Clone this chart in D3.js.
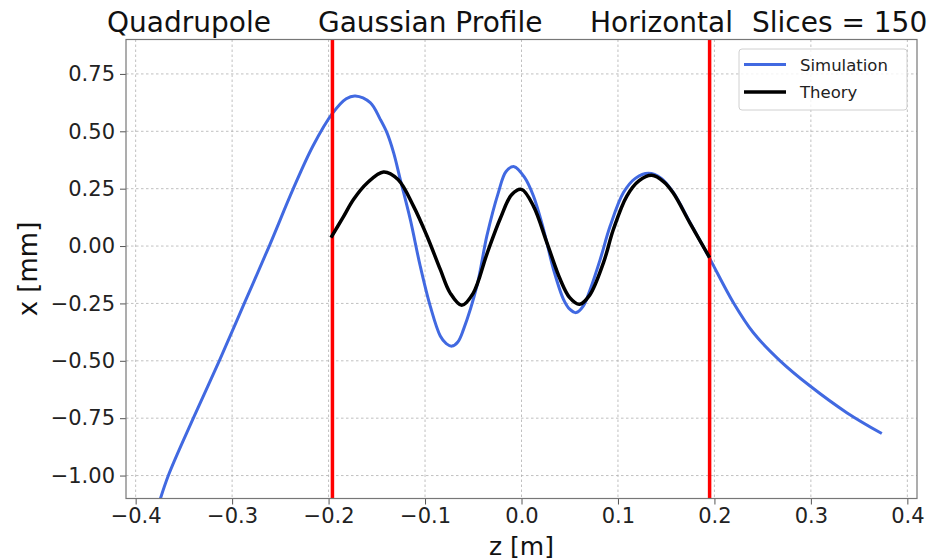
<!DOCTYPE html>
<html lang="en">
<head>
<meta charset="UTF-8">
<title>Quadrupole</title>
<style>
  body { margin: 0; background: #fff; }
  text { font-family: "DejaVu Sans", sans-serif; }
</style>
</head>
<body>
<script src="https://d3js.org/d3.v7.min.js"></script>
<script>
// simulation (blue) : z [m], x [mm]
var simZ = [-0.3765, -0.3661, -0.3402, -0.3133, -0.2874, -0.2615, -0.2366, -0.2162, -0.196, -0.1817,
            -0.1723, -0.1568, -0.1464, -0.1395, -0.1326, -0.1257, -0.1153, -0.105, -0.0946, -0.0842,
            -0.078, -0.0721, -0.066, -0.0601, -0.0462, -0.0359, -0.024, -0.016, -0.0076, 0.003,
            0.0124, 0.0228, 0.0332, 0.0435, 0.050, 0.0567, 0.064, 0.0712, 0.0816, 0.0919,
            0.1057, 0.118, 0.1316, 0.145, 0.1575, 0.1748, 0.1938, 0.2197, 0.2404, 0.2681,
            0.2992, 0.3372, 0.3735];
var simX = [-1.13, -1.0, -0.75, -0.5, -0.25, 0.0, 0.25, 0.436, 0.578, 0.642,
            0.654, 0.625, 0.552, 0.494, 0.407, 0.291, 0.116, -0.087, -0.262, -0.392,
            -0.425, -0.436, -0.418, -0.363, -0.174, 0.044, 0.233, 0.325, 0.346, 0.300,
            0.218, 0.073, -0.102, -0.232, -0.275, -0.290, -0.262, -0.189, -0.058, 0.087,
            0.233, 0.295, 0.317, 0.295, 0.233, 0.102, -0.044, -0.247, -0.378, -0.50,
            -0.61, -0.726, -0.817];
// theory (black)
var thZ = [-0.1975, -0.185, -0.174, -0.160, -0.143, -0.128, -0.112, -0.098, -0.0842, -0.0739,
           -0.062, -0.050, -0.0359, -0.022, -0.010, 0.0, 0.0124, 0.0263, 0.0401, 0.050,
           0.060, 0.0705, 0.085, 0.0953, 0.1092, 0.122, 0.135, 0.1475, 0.1575, 0.1748,
           0.195];
var thX = [0.037, 0.125, 0.204, 0.275, 0.323, 0.29, 0.174, 0.044, -0.102, -0.205,
           -0.258, -0.205, -0.035, 0.12, 0.225, 0.247, 0.174, 0.015, -0.145, -0.225,
           -0.254, -0.215, -0.072, 0.073, 0.218, 0.285, 0.308, 0.28, 0.230, 0.099,
           -0.05];
// magnet edges
var edges = [-0.196, 0.195];
var xTicks = [-0.4, -0.3, -0.2, -0.1, 0.0, 0.1, 0.2, 0.3, 0.4];
var yTicks = [0.75, 0.5, 0.25, 0.0, -0.25, -0.5, -0.75, -1.0];
var titleParts = ["Quadrupole", "Gaussian Profile", "Horizontal", "Slices = 150"];
var titleX = [107, 318, 590, 752];
var legendNames = ["Simulation", "Theory"];

var width = 938, height = 560;
var m = {left: 126, right: 21, top: 39.5, bottom: 61.5};
var w = width - m.left - m.right, h = height - m.top - m.bottom;

var svg = d3.select("body").append("svg")
    .attr("width", width).attr("height", height);

var x = d3.scaleLinear().domain([-0.41, 0.41]).range([0, w]);
var y = d3.scaleLinear().domain([-1.1, 0.9]).range([h, 0]);

var g = svg.append("g").attr("transform", "translate(" + m.left + "," + m.top + ")");

svg.append("defs").append("clipPath").attr("id", "clip")
  .append("rect").attr("width", w).attr("height", h);

// grid
g.append("g").selectAll("line").data(xTicks).enter().append("line")
  .attr("x1", d => x(d)).attr("x2", d => x(d)).attr("y1", 0).attr("y2", h)
  .attr("stroke", "#b0b0b0").attr("stroke-width", 0.8).attr("stroke-dasharray", "2.5,2.5");
g.append("g").selectAll("line").data(yTicks).enter().append("line")
  .attr("y1", d => y(d)).attr("y2", d => y(d)).attr("x1", 0).attr("x2", w)
  .attr("stroke", "#b0b0b0").attr("stroke-width", 0.8).attr("stroke-dasharray", "2.5,2.5");

var fmtX = d => d3.format(".1f")(d).replace("-", "\u2212");
var fmtY = d => d3.format(".2f")(d).replace("-", "\u2212");

var xAxis = g.append("g").attr("transform", "translate(0," + h + ")")
  .call(d3.axisBottom(x).tickValues(xTicks).tickFormat(fmtX).tickSize(6).tickPadding(4));
var yAxis = g.append("g")
  .call(d3.axisLeft(y).tickValues(yTicks).tickFormat(fmtY).tickSize(6).tickPadding(5));
[xAxis, yAxis].forEach(function(a) {
  a.select(".domain").remove();
  a.selectAll(".tick line").attr("stroke", "#555").attr("stroke-width", 1);
  a.selectAll(".tick text").attr("fill", "#222").style("font-size", "21px")
    .style("font-family", "DejaVu Sans, sans-serif");
});

var line = d3.line().x(d => x(d[0])).y(d => y(d[1])).curve(d3.curveCatmullRom.alpha(0.5));
var plot = g.append("g").attr("clip-path", "url(#clip)");

plot.append("path").datum(d3.zip(simZ, simX)).attr("d", line)
  .attr("fill", "none").attr("stroke", "#4169e1").attr("stroke-width", 3);

plot.selectAll(".edge").data(edges).enter().append("line")
  .attr("x1", d => x(d)).attr("x2", d => x(d)).attr("y1", 0).attr("y2", h)
  .attr("stroke", "red").attr("stroke-width", 3.5);

plot.append("path").datum(d3.zip(thZ, thX)).attr("d", line)
  .attr("fill", "none").attr("stroke", "black").attr("stroke-width", 3.5);

// frame
g.append("rect").attr("width", w).attr("height", h)
  .attr("fill", "none").attr("stroke", "#777").attr("stroke-width", 1.2);

// legend
var lg = svg.append("g").attr("transform", "translate(739,49)");
lg.append("rect").attr("width", 168).attr("height", 61).attr("rx", 3)
  .attr("fill", "white").attr("fill-opacity", 0.8).attr("stroke", "#d0d0d0");
var lcol = ["#4169e1", "black"];
legendNames.forEach(function(n, i) {
  lg.append("line").attr("x1", 5).attr("x2", 47).attr("y1", 15.5 + i * 27.5).attr("y2", 15.5 + i * 27.5)
    .attr("stroke", lcol[i]).attr("stroke-width", i ? 3.5 : 3);
  lg.append("text").attr("x", 61).attr("y", 21.5 + i * 27.5).text(n)
    .attr("fill", "#222").style("font-size", "16.5px");
});

// title
svg.selectAll(".title").data(titleParts).enter().append("text")
  .attr("x", (d, i) => titleX[i]).attr("y", 32).text(d => d)
  .attr("fill", "#111").style("font-size", "28px");

// axis labels
svg.append("text").attr("x", m.left + x(0)).attr("y", 555).attr("text-anchor", "middle")
  .style("font-size", "25px").attr("fill", "#111").text("z [m]");
svg.append("text").attr("transform", "translate(37," + (m.top + h / 2) + ") rotate(-90)")
  .attr("text-anchor", "middle").style("font-size", "26px").attr("fill", "#111").text("x [mm]");
</script>
</body>
</html>
